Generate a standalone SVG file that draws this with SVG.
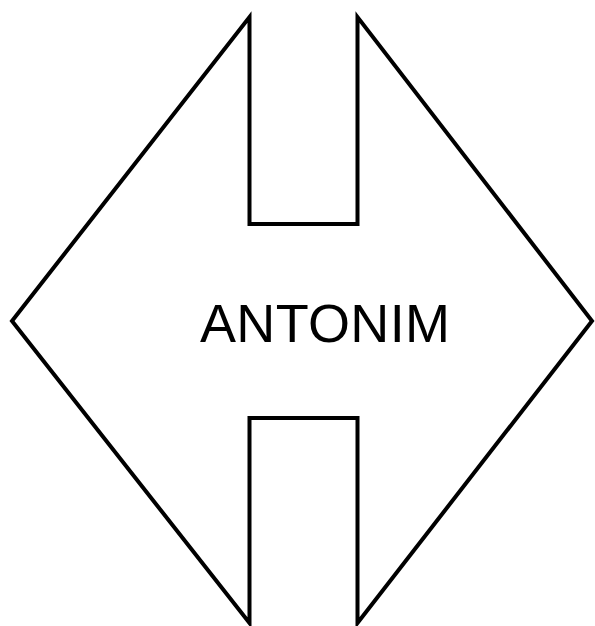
<svg xmlns="http://www.w3.org/2000/svg" width="595" height="626" viewBox="0 0 595 626">
<style>
.shape{fill:#fff;stroke:#000;stroke-width:4;stroke-linejoin:miter;stroke-miterlimit:10}
.lbl{font-family:"Liberation Sans",Arial,sans-serif;font-size:54px;fill:#000}
</style>
<rect width="595" height="626" fill="#fff"/>
<g id="antonim">
<polygon class="shape" points="249.5,17 249.5,224 357.5,224 357.5,17 592,321 357.5,623 357.5,418 249.5,418 249.5,623 12,321"/>
<text class="lbl" x="200" y="342" textLength="250" lengthAdjust="spacing">ANTONIM</text>
</g>
<g id="connectors"/>
</svg>
